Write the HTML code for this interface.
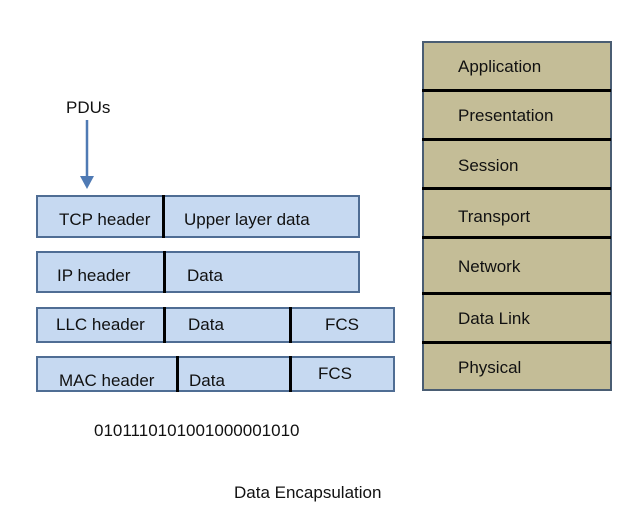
<!DOCTYPE html>
<html><head><style>
body{margin:0;width:638px;height:512px;background:#fff;position:relative;font-family:"Liberation Sans",sans-serif;overflow:hidden}
.t{position:absolute;font-size:17px;color:#111;white-space:nowrap;line-height:1}
.b{position:absolute;background:#c6d9f1;border:2px solid #4f6d94;box-sizing:border-box}
.v{position:absolute;width:3px;background:#000}
.h{position:absolute;left:422px;width:189px;height:3px;background:#000}
</style></head><body>
<div class="t" style="left:66px;top:99px">PDUs</div>
<svg style="position:absolute;left:0;top:0" width="638" height="512">
<line x1="87" y1="120" x2="87" y2="178" stroke="#4f7ab4" stroke-width="2.5"/>
<polygon points="80,176 94,176 87,189" fill="#4f7ab4"/>
</svg>
<div class="b" style="left:36px;top:195px;width:324px;height:43px"></div>
<div class="v" style="left:162px;top:195px;height:43px"></div>
<div class="t" style="left:59px;top:211px">TCP header</div>
<div class="t" style="left:184px;top:211px">Upper layer data</div>
<div class="b" style="left:36px;top:251px;width:324px;height:42px"></div>
<div class="v" style="left:163px;top:251px;height:42px"></div>
<div class="t" style="left:57px;top:267px">IP header</div>
<div class="t" style="left:187px;top:267px">Data</div>
<div class="b" style="left:36px;top:307px;width:359px;height:36px"></div>
<div class="v" style="left:163px;top:307px;height:36px"></div>
<div class="v" style="left:289px;top:307px;height:36px"></div>
<div class="t" style="left:56px;top:316px">LLC header</div>
<div class="t" style="left:188px;top:316px">Data</div>
<div class="t" style="left:325px;top:316px">FCS</div>
<div class="b" style="left:36px;top:356px;width:359px;height:36px"></div>
<div class="v" style="left:176px;top:356px;height:36px"></div>
<div class="v" style="left:289px;top:356px;height:36px"></div>
<div class="t" style="left:59px;top:372px">MAC header</div>
<div class="t" style="left:189px;top:372px">Data</div>
<div class="t" style="left:318px;top:365px">FCS</div>
<div class="t" style="left:94px;top:422px">0101110101001000001010</div>
<div class="t" style="left:234px;top:484px">Data Encapsulation</div>
<div style="position:absolute;left:422px;top:41px;width:190px;height:350px;background:#c4bd97;border:2px solid #4a5d73;box-sizing:border-box"></div>
<div class="h" style="top:89px"></div>
<div class="h" style="top:138px"></div>
<div class="h" style="top:187px"></div>
<div class="h" style="top:236px"></div>
<div class="h" style="top:292px"></div>
<div class="h" style="top:341px"></div>
<div class="t" style="left:458px;top:58px">Application</div>
<div class="t" style="left:458px;top:107px">Presentation</div>
<div class="t" style="left:458px;top:157px">Session</div>
<div class="t" style="left:458px;top:208px">Transport</div>
<div class="t" style="left:458px;top:258px">Network</div>
<div class="t" style="left:458px;top:310px">Data Link</div>
<div class="t" style="left:458px;top:359px">Physical</div>
</body></html>
